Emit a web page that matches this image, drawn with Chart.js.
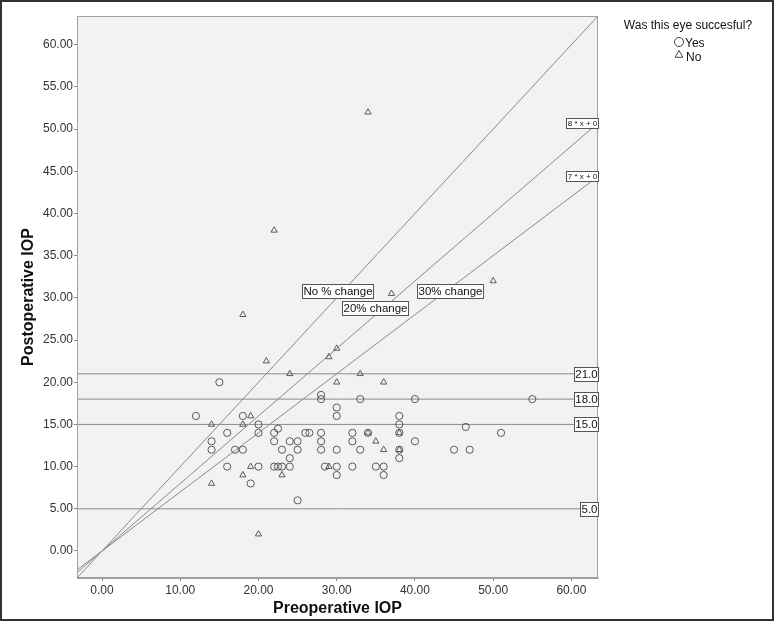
<!DOCTYPE html>
<html>
<head>
<meta charset="utf-8">
<script src="https://cdn.jsdelivr.net/npm/chart.js@4.4.0/dist/chart.umd.min.js"></script>
<style>
  html, body { margin: 0; padding: 0; background: #fff; }
</style>
</head>
<body>
<canvas id="myChart" width="774" height="621"></canvas>
<script>
// successful eyes (circles): [preop, postop]
const yesPoints = [
  [15, 20], [12, 16], [18, 16], [20, 15], [16, 14], [20, 14], [22, 14], [22.5, 14.5],
  [14, 13], [22, 13], [24, 13], [25, 13], [14, 12], [17, 12], [18, 12], [23, 12],
  [25, 12], [24, 11], [16, 10], [20, 10], [22, 10], [22.5, 10], [23, 10], [24, 10],
  [19, 8], [25, 6], [28, 18.5], [28, 18], [33, 18], [40, 18], [55, 18], [30, 17],
  [30, 16], [38, 16], [38, 15], [26, 14], [26.5, 14], [28, 14], [32, 14], [34, 14],
  [38, 14], [46.5, 14.7], [51, 14], [28, 13], [32, 13], [40, 13], [28, 12], [30, 12],
  [33, 12], [38, 12], [45, 12], [47, 12], [38, 11], [28.5, 10], [30, 10], [32, 10],
  [35, 10], [36, 10], [30, 9], [36, 9]
];
// unsuccessful eyes (triangles)
const noPoints = [
  [34, 52], [22, 38], [50, 32], [37, 30.5], [18, 28], [30, 24], [29, 23], [21, 22.5],
  [24, 21], [33, 21], [30, 20], [36, 20], [19, 16], [14, 15], [18, 15], [34, 14],
  [38, 14], [35, 13], [36, 12], [38, 12], [19, 10], [29, 10], [18, 9], [23, 9],
  [14, 8], [20, 2]
];

const xTicks = [0, 10, 20, 30, 40, 50, 60];
const yTicks = [0, 5, 10, 15, 20, 25, 30, 35, 40, 45, 50, 55, 60];
const slopes = [1, 0.8, 0.7];
const slopeLabels = ['', '8 * x + 0', '7 * x + 0'];
const slopeNames = ['No % change', '20% change', '30% change'];
const refLevels = [21, 18, 15, 5];
const refLabels = ['21.0', '18.0', '15.0', '5.0'];
const axisMin = -3.2;
const axisMax = 63.4;

const FONT = "'Liberation Sans', Arial, sans-serif";
const lineColor = '#8a8a8a';

const datasets = [
  {
    label: 'Yes',
    data: yesPoints.map(p => ({x: p[0], y: p[1]})),
    pointStyle: 'circle',
    pointRadius: 3.6,
    borderColor: '#5a5a5a',
    backgroundColor: 'rgba(0,0,0,0)',
    borderWidth: 1
  },
  {
    label: 'No',
    data: noPoints.map(p => ({x: p[0], y: p[1]})),
    pointStyle: 'triangle',
    pointRadius: 3.6,
    borderColor: '#5a5a5a',
    backgroundColor: 'rgba(0,0,0,0)',
    borderWidth: 1
  }
];

slopes.forEach(s => {
  datasets.push({
    label: 'slope ' + s,
    data: [{x: axisMin, y: s * axisMin}, {x: axisMax, y: s * axisMax}],
    showLine: true, pointRadius: 0, borderColor: lineColor, borderWidth: 1, fill: false
  });
});
refLevels.forEach(v => {
  datasets.push({
    label: 'ref ' + v,
    data: [{x: axisMin, y: v}, {x: axisMax, y: v}],
    showLine: true, pointRadius: 0, borderColor: lineColor, borderWidth: 1, fill: false
  });
});

// where the change labels sit, in data units
const nameSpots = [[30.05, 30.8], [34.9, 28.8], [44.5, 30.8]];

function textBox(ctx, text, x, y, size, anchor) {
  ctx.font = size + 'px ' + FONT;
  const w = Math.round(ctx.measureText(text).width + 2);
  const h = Math.round(size + 2);
  const left = Math.round(anchor === 'right' ? x - w : x - w / 2);
  const top = Math.round(y - h / 2);
  ctx.fillStyle = '#fff';
  ctx.fillRect(left, top, w, h);
  ctx.strokeStyle = '#555';
  ctx.lineWidth = 1;
  ctx.strokeRect(left + 0.5, top + 0.5, w, h);
  ctx.fillStyle = '#111';
  ctx.textAlign = 'center';
  ctx.textBaseline = 'middle';
  ctx.fillText(text, left + w / 2 + 0.5, top + h / 2 + 1);
}

const spssLook = {
  id: 'spssLook',
  beforeDraw(chart) {
    const {ctx, chartArea: a} = chart;
    ctx.save();
    ctx.fillStyle = '#fff';
    ctx.fillRect(0, 0, chart.width, chart.height);
    ctx.fillStyle = '#f2f2f2';
    ctx.fillRect(a.left, a.top, a.right - a.left, a.bottom - a.top);
    ctx.restore();
  },
  afterDraw(chart) {
    const {ctx, chartArea: a, scales: {x, y}} = chart;
    ctx.save();
    ctx.strokeStyle = '#a0a0a0';
    ctx.lineWidth = 1;
    ctx.strokeRect(a.left + 0.5, a.top + 0.5, a.right - a.left - 1, a.bottom - a.top - 1);

    refLevels.forEach((v, i) => textBox(ctx, refLabels[i], a.right, y.getPixelForValue(v), 11.5, 'right'));
    slopes.forEach((s, i) => {
      if (slopeLabels[i]) textBox(ctx, slopeLabels[i], a.right, y.getPixelForValue(s * axisMax), 8, 'right');
    });
    slopeNames.forEach((t, i) => {
      textBox(ctx, t, x.getPixelForValue(nameSpots[i][0]), y.getPixelForValue(nameSpots[i][1]), 11.5, 'center');
    });

    // legend
    ctx.fillStyle = '#111';
    ctx.font = '12px ' + FONT;
    ctx.textAlign = 'center';
    ctx.textBaseline = 'middle';
    ctx.fillText('Was this eye succesful?', 688, 26);
    ctx.textAlign = 'left';
    ctx.fillText('Yes', 685, 44);
    ctx.fillText('No', 686, 58);
    ctx.fillStyle = 'rgba(0,0,0,0)';
    ctx.strokeStyle = '#444';
    ctx.lineWidth = 1;
    Chart.helpers.drawPoint(ctx, {pointStyle: 'circle', radius: 4.5, borderWidth: 1}, 679, 42);
    Chart.helpers.drawPoint(ctx, {pointStyle: 'triangle', radius: 4.5, borderWidth: 1}, 679, 55);

    // outer frame
    ctx.strokeStyle = '#333';
    ctx.lineWidth = 2;
    ctx.strokeRect(1, 1, chart.width - 2, chart.height - 2);
    ctx.restore();
  }
};

new Chart(document.getElementById('myChart'), {
  type: 'scatter',
  data: {datasets: datasets},
  options: {
    responsive: false,
    animation: false,
    layout: {padding: {left: 0, right: 176, top: 16, bottom: 0}},
    plugins: {legend: {display: false}, tooltip: {enabled: false}},
    scales: {
      x: {
        type: 'linear', min: axisMin, max: axisMax,
        afterBuildTicks: s => { s.ticks = xTicks.map(v => ({value: v})); },
        afterFit: s => { s.height = 43; },
        ticks: {callback: v => v.toFixed(2), color: '#333', font: {family: FONT, size: 12}, maxRotation: 0, padding: 2},
        grid: {drawOnChartArea: false, drawTicks: true, tickLength: 3, color: '#888'},
        border: {color: '#a0a0a0'},
        title: {display: true, text: 'Preoperative IOP', color: '#111', font: {family: FONT, size: 16, weight: 'bold'}, padding: {top: 0, bottom: 3}}
      },
      y: {
        type: 'linear', min: axisMin, max: axisMax,
        afterBuildTicks: s => { s.ticks = yTicks.map(v => ({value: v})); },
        afterFit: s => { s.width = 77; },
        ticks: {callback: v => v.toFixed(2), color: '#333', font: {family: FONT, size: 12}, padding: 1},
        grid: {drawOnChartArea: false, drawTicks: true, tickLength: 3, color: '#888'},
        border: {color: '#a0a0a0'},
        title: {display: true, text: 'Postoperative IOP', color: '#111', font: {family: FONT, size: 16, weight: 'bold'}, padding: {top: 19, bottom: 0}}
      }
    }
  },
  plugins: [spssLook]
});
</script>
</body>
</html>
